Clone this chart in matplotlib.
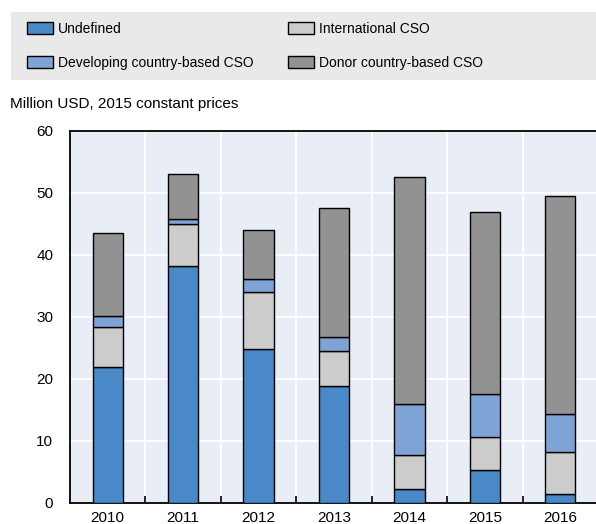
import numpy as np
import matplotlib.pyplot as plt
from matplotlib.patches import Rectangle

plt.rcParams['font.family'] = ['Liberation Sans', 'DejaVu Sans']

years = ['2010', '2011', '2012', '2013', '2014', '2015', '2016']
# segment heights
undefined = [21.9, 38.2, 24.8, 18.8, 2.2, 5.4, 1.4]
international = [6.5, 6.8, 9.2, 5.7, 5.5, 5.2, 6.8]
developing = [1.8, 0.8, 2.2, 2.2, 8.3, 7.0, 6.2]
donor = [13.3, 7.3, 7.8, 20.8, 36.5, 29.3, 35.1]

c_undef = '#4a89c8'
c_intl = '#cccccc'
c_dev = '#7ea4d6'
c_donor = '#929292'

fig = plt.figure(figsize=(5.96, 5.24), dpi=100)
ax = fig.add_axes([70/596, 1-503/524, 528/596, 372/524])
ax.set_facecolor('#e9eef6')

x = np.arange(len(years))
w = 0.4
kw = dict(width=w, edgecolor='black', linewidth=1.0, zorder=3)
b = np.zeros(len(years))
h1 = ax.bar(x, undefined, bottom=b, color=c_undef, label='Undefined', **kw)
b = b + undefined
h2 = ax.bar(x, international, bottom=b, color=c_intl, label='International CSO', **kw)
b = b + international
h3 = ax.bar(x, developing, bottom=b, color=c_dev, label='Developing country-based CSO', **kw)
b = b + developing
h4 = ax.bar(x, donor, bottom=b, color=c_donor, label='Donor country-based CSO', **kw)

ax.set_xlim(-0.5, len(years) - 0.5)
ax.set_ylim(0, 60)
ax.set_yticks(range(0, 61, 10))
ax.set_xticks(x)
ax.set_xticklabels(years)
ax.set_xticks(np.arange(0.5, len(years) - 0.5, 1), minor=True)
ax.grid(axis='y', color='white', linewidth=1.3, zorder=0)
ax.grid(axis='x', which='minor', color='white', linewidth=1.3, zorder=0)
ax.tick_params(axis='y', length=0, labelsize=11, pad=12)
ax.tick_params(axis='x', which='major', length=0, labelsize=11, pad=6)
ax.tick_params(axis='x', which='minor', length=5, direction='in', width=1.2)
for s in ['left', 'bottom', 'top']:
    ax.spines[s].set_linewidth(1.3)
ax.spines['right'].set_visible(False)

fig.text(10/596, 1-104/524, 'Million USD, 2015 constant prices', fontsize=11, va='center', ha='left')

fig.patches.append(Rectangle((11/596, 1-80/524), 585/596, 68/524,
                             transform=fig.transFigure, facecolor='#e9e9e9', edgecolor='none'))
lkw = dict(loc='upper left', frameon=False, fontsize=10, handlelength=1.9, handleheight=0.95,
           handletextpad=0.3, labelspacing=1.45, borderaxespad=0, borderpad=0)
leg1 = fig.legend([h1, h3], ['Undefined', 'Developing country-based CSO'],
                  bbox_to_anchor=(27/596, 1-22/524), **lkw)
leg2 = fig.legend([h2, h4], ['International CSO', 'Donor country-based CSO'],
                  bbox_to_anchor=(288/596, 1-22/524), **lkw)

fig.savefig('out.png', dpi=100)
